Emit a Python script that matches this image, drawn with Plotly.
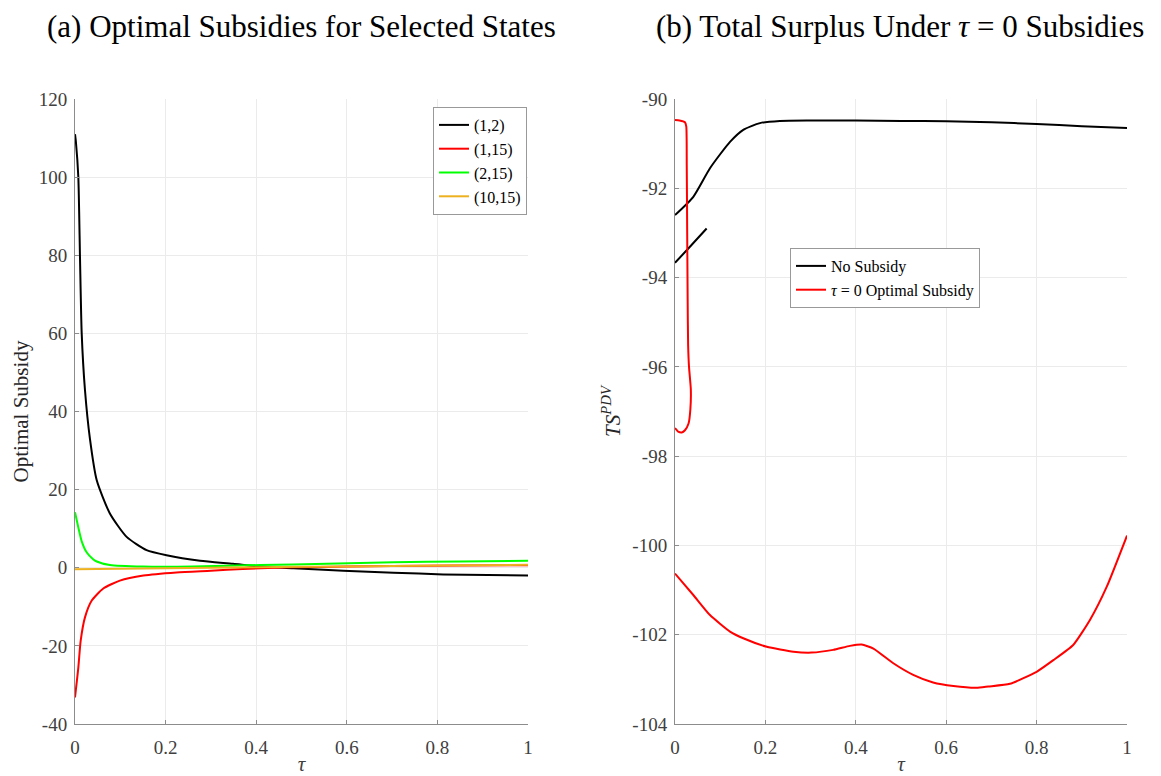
import plotly.graph_objects as go

# ---------- Panel (a): optimal subsidies by state ----------
tau_12 = [0.0, 0.002, 0.0073, 0.011, 0.0148, 0.022, 0.033, 0.048, 0.077, 0.114, 0.158,
          0.202, 0.276, 0.349, 0.408, 0.482, 0.592, 0.703, 0.813, 1.0]
sub_12 = [111.0, 109.0, 100.1, 79.6, 60.0, 45.5, 33.0, 22.4, 13.9, 7.9, 4.5,
          3.2, 1.8, 1.0, 0.3, -0.1, -0.75, -1.25, -1.7, -2.0]

tau_115 = [0.0, 0.0074, 0.0125, 0.022, 0.037, 0.0625, 0.099, 0.151, 0.224, 0.30,
           0.37, 0.48, 0.60, 0.70, 0.85, 1.0]
sub_115 = [-33.2, -25.5, -18.7, -12.7, -8.4, -5.3, -3.3, -2.0, -1.2, -0.75,
           -0.3, 0.1, 0.3, 0.45, 0.55, 0.65]

tau_215 = [0.0, 0.007, 0.015, 0.026, 0.040, 0.048, 0.077, 0.15, 0.26, 0.408,
           0.556, 0.703, 0.85, 1.0]
sub_215 = [14.2, 10.5, 6.7, 3.9, 2.2, 1.6, 0.7, 0.3, 0.3, 0.7,
           1.0, 1.4, 1.6, 1.8]

tau_1015 = [0.0, 0.2, 0.4, 0.6, 0.8, 1.0]
sub_1015 = [-0.4, -0.1, 0.15, 0.35, 0.55, 0.75]

# ---------- Panel (b): total surplus ----------
tau_nosub = [0.0, 0.033, 0.070, None,
             0.0, 0.0405, 0.0774, 0.1217, 0.151, 0.188, 0.232, 0.30, 0.40, 0.50,
             0.60, 0.70, 0.80, 0.90, 1.0]
ts_nosub = [-93.67, -93.31, -92.90, None,
            -92.60, -92.19, -91.55, -90.96, -90.69, -90.54, -90.49, -90.48, -90.48, -90.49,
            -90.50, -90.52, -90.56, -90.61, -90.65]

tau_opt = [0.0, 0.010, 0.022, 0.025, 0.026, 0.027, 0.028, 0.029, 0.031, 0.035,
           0.034, 0.030, 0.022, 0.015, 0.007, 0.0, None,
           0.0, 0.0405, 0.0774, 0.1217, 0.151, 0.203, 0.262, 0.302, 0.350, 0.387,
           0.413, 0.439, 0.483, 0.527, 0.571, 0.616, 0.667, 0.693, 0.741, 0.800,
           0.837, 0.881, 0.918, 0.955, 1.0]
ts_opt = [-90.47, -90.48, -90.52, -90.62, -91.5, -93.0, -94.5, -95.5, -96.0, -96.5,
          -96.95, -97.27, -97.42, -97.47, -97.45, -97.37, None,
          -100.63, -101.11, -101.56, -101.93, -102.08, -102.27, -102.38, -102.40, -102.34, -102.25,
          -102.22, -102.31, -102.64, -102.90, -103.07, -103.15, -103.19, -103.16, -103.10, -102.83,
          -102.57, -102.23, -101.67, -100.93, -99.78]

x_ticks = [0, 0.2, 0.4, 0.6, 0.8, 1]
x_labels = ["0", "0.2", "0.4", "0.6", "0.8", "1"]
ya_ticks = list(range(-40, 121, 20))
yb_ticks = list(range(-104, -89, 2))

FONT = "Liberation Serif"
TICK_CLR = "#404040"
AX_CLR = "#8c8c8c"
GRID_CLR = "#ebebeb"

fig = go.Figure()

series_a = [
    ("(1,2)", tau_12, sub_12, "#000000"),
    ("(1,15)", tau_115, sub_115, "#ff0000"),
    ("(2,15)", tau_215, sub_215, "#00ff00"),
    ("(10,15)", tau_1015, sub_1015, "#edb120"),
]
for name, xs, ys, clr in series_a:
    fig.add_trace(go.Scatter(x=xs, y=ys, mode="lines", name=name,
                             line=dict(color=clr, width=2, shape="spline", smoothing=0.6),
                             xaxis="x", yaxis="y", legend="legend"))

fig.add_trace(go.Scatter(x=tau_nosub, y=ts_nosub, mode="lines", name="No Subsidy",
                         line=dict(color="#000000", width=2, shape="spline", smoothing=0.6),
                         connectgaps=False, xaxis="x2", yaxis="y2", legend="legend2"))
fig.add_trace(go.Scatter(x=tau_opt, y=ts_opt, mode="lines",
                         name="<i>τ</i> = 0 Optimal Subsidy",
                         line=dict(color="#ff0000", width=2, shape="spline", smoothing=0.5),
                         connectgaps=False, xaxis="x2", yaxis="y2", legend="legend2"))

common_x = dict(range=[0, 1], tickvals=x_ticks, ticktext=x_labels, automargin=False,
                showgrid=True, gridcolor=GRID_CLR, gridwidth=1,
                showline=True, linecolor=AX_CLR, linewidth=1,
                ticks="inside", ticklen=4, tickcolor=AX_CLR, ticklabelstandoff=6,
                zeroline=False, tickfont=dict(family=FONT, size=19, color=TICK_CLR),
                title=dict(text="<i>τ</i>", font=dict(family=FONT, size=21, color=TICK_CLR),
                           standoff=10))
common_y = dict(showgrid=True, gridcolor=GRID_CLR, gridwidth=1, automargin=False,
                showline=True, linecolor=AX_CLR, linewidth=1,
                ticks="inside", ticklen=4, tickcolor=AX_CLR, ticklabelstandoff=3,
                zeroline=False, tickfont=dict(family=FONT, size=19, color=TICK_CLR))

y_dom = [1 - 724 / 776, 1 - 99 / 776]

fig.update_layout(
    width=1161, height=776,
    margin=dict(l=0, r=0, t=0, b=0),
    paper_bgcolor="white", plot_bgcolor="white",
    xaxis=dict(domain=[75 / 1161, 528 / 1161], anchor="y", **common_x),
    yaxis=dict(domain=y_dom, anchor="x", range=[-40, 120],
               tickvals=ya_ticks, ticktext=[str(v) for v in ya_ticks],
               title=dict(text="Optimal Subsidy",
                          font=dict(family=FONT, size=21, color="#262626"), standoff=4),
               **common_y),
    xaxis2=dict(domain=[675 / 1161, 1127 / 1161], anchor="y2", **common_x),
    yaxis2=dict(domain=y_dom, anchor="x2", range=[-104, -90],
                tickvals=yb_ticks, ticktext=[str(v) for v in yb_ticks],
                title=dict(text="<i>TS</i><sup><i>PDV</i></sup>",
                           font=dict(family=FONT, size=21, color="#262626"), standoff=6),
                **common_y),
    legend=dict(x=527 / 1161, y=1 - 107 / 776, xanchor="right", yanchor="top",
                bgcolor="white", bordercolor="#999999", borderwidth=1,
                font=dict(family=FONT, size=16, color="#000000"),
                tracegroupgap=0, itemwidth=30),
    legend2=dict(x=790 / 1161, y=1 - 248 / 776, xanchor="left", yanchor="top",
                 bgcolor="white", bordercolor="#999999", borderwidth=1,
                 font=dict(family=FONT, size=16, color="#000000"),
                 tracegroupgap=0, itemwidth=30),
    annotations=[
        dict(text="(a) Optimal Subsidies for Selected States", x=301 / 1161, y=1 - 27 / 776,
             xref="paper", yref="paper", showarrow=False, xanchor="center", yanchor="middle",
             font=dict(family=FONT, size=31, color="#000000")),
        dict(text="(b) Total Surplus Under <i>τ</i> = 0 Subsidies", x=900 / 1161, y=1 - 27 / 776,
             xref="paper", yref="paper", showarrow=False, xanchor="center", yanchor="middle",
             font=dict(family=FONT, size=31, color="#000000")),
    ],
)

fig.write_html("out.html")
